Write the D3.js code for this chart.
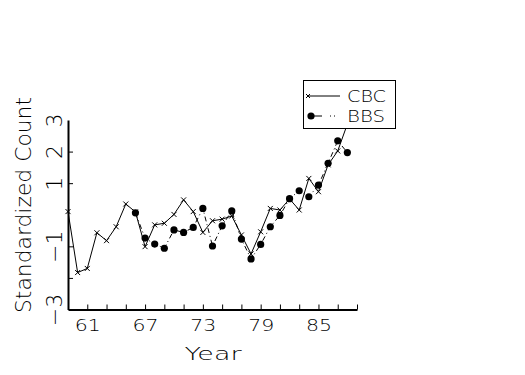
<!DOCTYPE html>
<html>
<head>
<meta charset="utf-8">
<script src="https://d3js.org/d3.v7.min.js"></script>
<style>
  body { margin: 0; background: #fff; }
  text { font-family: "DejaVu Sans", sans-serif; font-weight: 200; fill: #000; }
</style>
</head>
<body>
<div id="chart"></div>
<script>
// data
var cbc_years  = [59, 60, 61, 62, 63, 64, 65, 66, 67, 68, 69, 70, 71, 72, 73, 74, 75, 76, 77, 78, 79, 80, 81, 82, 83, 84, 85, 86, 87, 88];
var cbc_values = [0.10, -1.83, -1.70, -0.57, -0.82, -0.38, 0.34, 0.09, -1.01, -0.32, -0.27, 0.01, 0.47, 0.10, -0.56, -0.19, -0.14, -0.04, -0.64, -1.24, -0.54, 0.20, 0.15, 0.50, 0.15, 1.15, 0.73, 1.58, 2.02, 2.87];
var bbs_years  = [66, 67, 68, 69, 70, 71, 72, 73, 74, 75, 76, 77, 78, 79, 80, 81, 82, 83, 84, 85, 86, 87, 88];
var bbs_values = [0.06, -0.74, -0.93, -1.06, -0.48, -0.56, -0.40, 0.20, -0.99, -0.35, 0.12, -0.77, -1.40, -0.94, -0.38, -0.02, 0.51, 0.76, 0.57, 0.94, 1.63, 2.34, 1.97];

var x_tick_marks  = [61, 63, 65, 67, 69, 71, 73, 75, 77, 79, 81, 83, 85, 87, 89];
var x_tick_labels = [61, 67, 73, 79, 85];
var y_tick_marks  = [2, 1, -1, -2];
var y_tick_labels = [3, 2, 1, -1, -3];

var cbc = cbc_years.map(function(y, i){ return {year: y, value: cbc_values[i]}; });
var bbs = bbs_years.map(function(y, i){ return {year: y, value: bbs_values[i]}; });

var width = 525, height = 375;
var svg = d3.select("#chart").append("svg")
  .attr("width", width)
  .attr("height", height);

var xScale = d3.scaleLinear().domain([59, 89]).range([68, 357]);
var yScale = d3.scaleLinear().domain([-3, 3]).range([309.5, 120]);

// axes: ticks point inward
var xAxisTicks = svg.append("g")
  .attr("transform", "translate(0," + yScale(-3) + ")")
  .call(d3.axisBottom(xScale).tickValues(x_tick_marks).tickSizeInner(-5).tickSizeOuter(0).tickFormat(""));
var xAxisLabels = svg.append("g")
  .attr("transform", "translate(0," + yScale(-3) + ")")
  .call(d3.axisBottom(xScale).tickValues(x_tick_labels).tickSize(0).tickPadding(10));
xAxisLabels.selectAll(".domain").remove();
xAxisLabels.selectAll("text")
  .style("font-size", "16px")
  .attr("dy", "0.74em")
  .attr("textLength", 26)
  .attr("lengthAdjust", "spacingAndGlyphs");

var yAxisTicks = svg.append("g")
  .attr("transform", "translate(" + xScale(59) + ",0)")
  .call(d3.axisLeft(yScale).tickValues(y_tick_marks).tickSizeInner(-5).tickSizeOuter(0).tickFormat(""));
var yAxisLabels = svg.append("g")
  .attr("transform", "translate(" + xScale(59) + ",0)")
  .call(d3.axisLeft(yScale).tickValues(y_tick_labels).tickSize(0).tickFormat(d3.format("d")));
yAxisLabels.selectAll(".domain").remove();
yAxisLabels.selectAll("text")
  .style("font-size", "22px")
  .attr("x", null).attr("dy", null)
  .attr("text-anchor", "middle")
  .attr("transform", "translate(-6,0) rotate(-90)");

svg.selectAll(".domain").attr("stroke-width", 2);
svg.selectAll(".tick line").attr("stroke", "#000");
svg.selectAll(".tick text").attr("fill", "#000");

// axis titles
svg.append("text")
  .attr("x", 213).attr("y", 360)
  .attr("text-anchor", "middle")
  .style("font-size", "18px")
  .attr("textLength", 57)
  .attr("lengthAdjust", "spacingAndGlyphs")
  .text("Year");

svg.append("text")
  .attr("transform", "translate(31,205) rotate(-90)")
  .attr("text-anchor", "middle")
  .style("font-size", "22px")
  .attr("textLength", 216)
  .attr("lengthAdjust", "spacingAndGlyphs")
  .text("Standardized Count");

var line = d3.line()
  .x(function(d){ return xScale(d.year); })
  .y(function(d){ return yScale(d.value); });

// CBC: solid line with x markers
svg.append("path")
  .datum(cbc)
  .attr("d", line)
  .attr("fill", "none")
  .attr("stroke", "#000")
  .attr("stroke-width", 1);

var crossPath = "M-2.5,-2.5L2.5,2.5M-2.5,2.5L2.5,-2.5";
svg.append("g").selectAll("path")
  .data(cbc).enter().append("path")
  .attr("transform", function(d){ return "translate(" + xScale(d.year) + "," + yScale(d.value) + ")"; })
  .attr("d", crossPath)
  .attr("stroke", "#000")
  .attr("fill", "none");

// BBS: dash-dot line with filled dots
svg.append("path")
  .datum(bbs)
  .attr("d", line)
  .attr("fill", "none")
  .attr("stroke", "#000")
  .attr("stroke-width", 1)
  .attr("stroke-dasharray", "5,3,1,3");

svg.append("g").selectAll("circle")
  .data(bbs).enter().append("circle")
  .attr("cx", function(d){ return xScale(d.year); })
  .attr("cy", function(d){ return yScale(d.value); })
  .attr("r", 3.6)
  .attr("fill", "#000");

// legend
var legend = svg.append("g");
legend.append("rect")
  .attr("x", 303.5).attr("y", 80.5)
  .attr("width", 92).attr("height", 48)
  .attr("fill", "#fff")
  .attr("stroke", "#000");

legend.append("line")
  .attr("x1", 308).attr("x2", 340).attr("y1", 96).attr("y2", 96)
  .attr("stroke", "#000");
legend.append("path")
  .attr("transform", "translate(308,96)")
  .attr("d", "M-2,-2L2,2M-2,2L2,-2")
  .attr("stroke", "#000");
legend.append("text")
  .attr("x", 347).attr("y", 102)
  .style("font-size", "16px")
  .attr("textLength", 39)
  .attr("lengthAdjust", "spacingAndGlyphs")
  .text("CBC");

legend.append("line")
  .attr("x1", 311).attr("x2", 336).attr("y1", 116).attr("y2", 116)
  .attr("stroke", "#000")
  .attr("stroke-dasharray", "11,8,1,3,1,10");
legend.append("circle")
  .attr("cx", 311).attr("cy", 116).attr("r", 3.6)
  .attr("fill", "#000");
legend.append("text")
  .attr("x", 347).attr("y", 122)
  .style("font-size", "16px")
  .attr("textLength", 38)
  .attr("lengthAdjust", "spacingAndGlyphs")
  .text("BBS");
</script>
</body>
</html>
